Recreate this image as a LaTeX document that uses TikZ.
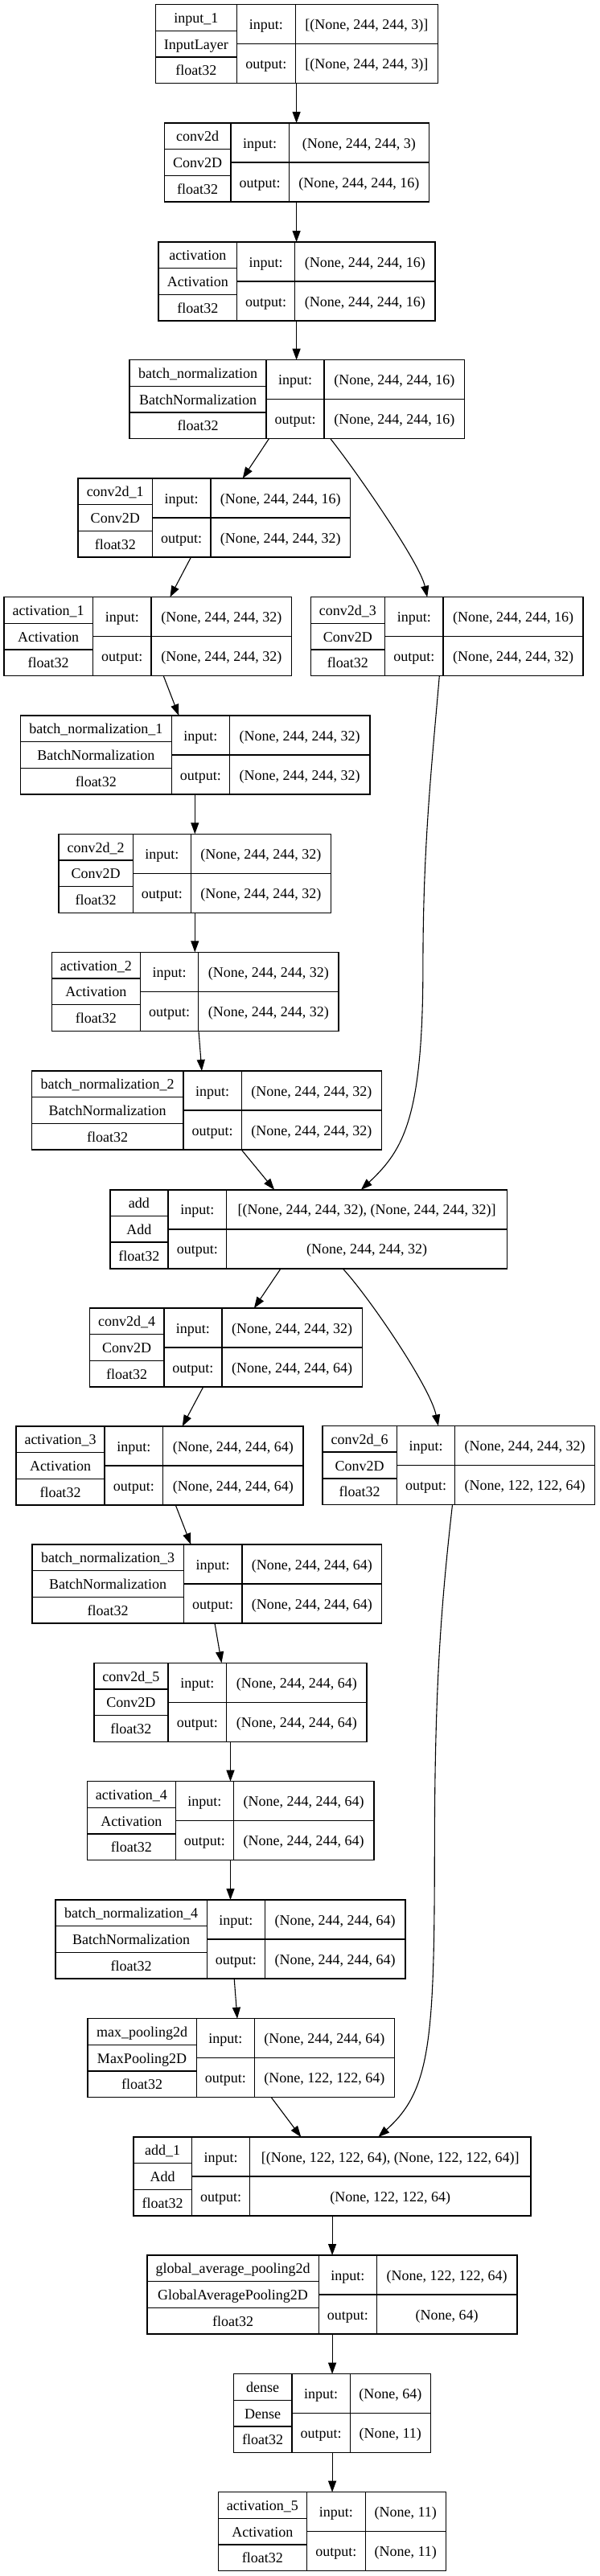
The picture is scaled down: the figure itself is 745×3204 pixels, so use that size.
\documentclass[tikz,border=0pt]{standalone}
\usepackage{fontspec}
\setmainfont{Liberation Serif}
\usetikzlibrary{arrows.meta}
\tikzset{
  frame/.style={draw=black, line width=1.4pt, inner sep=0pt, outer sep=0pt, minimum height=98pt, rectangle},
  cellline/.style={draw=black, line width=1.4pt},
  lbl/.style={anchor=base, inner sep=0pt, font=\fontsize{18}{20}\selectfont},
  arr/.style={draw=black, line width=1.1pt, -{Triangle[length=14pt,width=10pt]}},
}
\newcommand\lay[9]{\def\Lid{#1}\def\Lx{#2}\def\Ly{#3}\def\La{#4}\def\Lb{#5}\def\Lc{#6}\def\Ln{#7}\def\Lk{#8}\def\Li{#9}\layfin}
\newcommand\layfin[1]{%
  \node[frame, minimum width={(\Lc-\Lx)*1pt}, anchor=north west] (\Lid) at ({\Lx},{\Ly}) {};
  \draw[cellline] ({\La},{\Ly}) -- ({\La},{\Ly+98});
  \draw[cellline] ({\Lb},{\Ly}) -- ({\Lb},{\Ly+98});
  \draw[cellline] ({\Lx},{\Ly+32.67}) -- ({\La},{\Ly+32.67});
  \draw[cellline] ({\Lx},{\Ly+65.33}) -- ({\La},{\Ly+65.33});
  \draw[cellline] ({\La},{\Ly+49}) -- ({\Lc},{\Ly+49});
  \node[lbl] (\Lid-n) at ({(\Lx+\La)/2},{\Ly+22.8}) {\Ln};
  \node[lbl] (\Lid-k) at ({(\Lx+\La)/2},{\Ly+55.5}) {\Lk};
  \node[lbl] (\Lid-t) at ({(\Lx+\La)/2},{\Ly+88.2}) {float32};
  \node[lbl] (\Lid-il) at ({(\La+\Lb)/2},{\Ly+31}) {input:};
  \node[lbl] (\Lid-ol) at ({(\La+\Lb)/2},{\Ly+80}) {output:};
  \node[lbl] (\Lid-iv) at ({(\Lb+\Lc)/2},{\Ly+31}) {\Li};
  \node[lbl] (\Lid-ov) at ({(\Lb+\Lc)/2},{\Ly+80}) {#1};
}
\begin{document}
\begin{tikzpicture}[x=1pt,y=-1pt]
\fill[white] (0,0) rectangle (745,3204);
\useasboundingbox (0,0) rectangle (745,3204);

\lay{input1}{193.4}{5.7}{294.5}{367.2}{544.4}{input\_1}{InputLayer}{[(None, 244, 244, 3)]}{[(None, 244, 244, 3)]}
\lay{conv2d}{204.3}{153}{287.0}{359.2}{533.5}{conv2d}{Conv2D}{(None, 244, 244, 3)}{(None, 244, 244, 16)}
\lay{act}{197.1}{301}{294.5}{366.7}{541.1}{activation}{Activation}{(None, 244, 244, 16)}{(None, 244, 244, 16)}
\lay{bn}{161.0}{447.7}{331.1}{402.9}{577.7}{batch\_normalization}{BatchNormalization}{(None, 244, 244, 16)}{(None, 244, 244, 16)}
\lay{conv2d1}{96.9}{595}{189.6}{261.8}{435.7}{conv2d\_1}{Conv2D}{(None, 244, 244, 16)}{(None, 244, 244, 32)}
\lay{act1}{4.8}{742.7}{115.4}{188.1}{362.5}{activation\_1}{Activation}{(None, 244, 244, 32)}{(None, 244, 244, 32)}
\lay{conv2d3}{386.2}{742.7}{478.5}{551.1}{724.9}{conv2d\_3}{Conv2D}{(None, 244, 244, 16)}{(None, 244, 244, 32)}
\lay{bn1}{25.2}{890}{213.3}{285.5}{459.9}{batch\_normalization\_1}{BatchNormalization}{(None, 244, 244, 32)}{(None, 244, 244, 32)}
\lay{conv2d2}{73.1}{1037.3}{165.3}{237.5}{411.4}{conv2d\_2}{Conv2D}{(None, 244, 244, 32)}{(None, 244, 244, 32)}
\lay{act2}{64.2}{1184.3}{174.4}{246.6}{421.0}{activation\_2}{Activation}{(None, 244, 244, 32)}{(None, 244, 244, 32)}
\lay{bn2}{39.4}{1332}{228.0}{300.2}{474.6}{batch\_normalization\_2}{BatchNormalization}{(None, 244, 244, 32)}{(None, 244, 244, 32)}
\lay{add}{136.8}{1479.8}{209.0}{281.7}{630.4}{add}{Add}{[(None, 244, 244, 32), (None, 244, 244, 32)]}{(None, 244, 244, 32)}
\lay{conv2d4}{111.6}{1627.1}{203.8}{276.0}{450.4}{conv2d\_4}{Conv2D}{(None, 244, 244, 32)}{(None, 244, 244, 64)}
\lay{act3}{20}{1774}{130}{202.7}{377}{activation\_3}{Activation}{(None, 244, 244, 64)}{(None, 244, 244, 64)}
\lay{conv2d6}{401}{1773.5}{493.3}{565.7}{739.7}{conv2d\_6}{Conv2D}{(None, 244, 244, 32)}{(None, 122, 122, 64)}
\lay{bn3}{40}{1921}{228.3}{301}{474.6}{batch\_normalization\_3}{BatchNormalization}{(None, 244, 244, 64)}{(None, 244, 244, 64)}
\lay{conv2d5}{116.9}{2068.3}{209}{281.7}{456.1}{conv2d\_5}{Conv2D}{(None, 244, 244, 64)}{(None, 244, 244, 64)}
\lay{act4}{108.3}{2215.7}{218.5}{290.3}{465.1}{activation\_4}{Activation}{(None, 244, 244, 64)}{(None, 244, 244, 64)}
\lay{bn4}{68.8}{2363}{257.5}{329.3}{504.0}{batch\_normalization\_4}{BatchNormalization}{(None, 244, 244, 64)}{(None, 244, 244, 64)}
\lay{mp}{108.8}{2510.7}{244.2}{316.4}{490.3}{max\_pooling2d}{MaxPooling2D}{(None, 244, 244, 64)}{(None, 122, 122, 64)}
\lay{add1}{165.8}{2658}{238.5}{310.6}{659.9}{add\_1}{Add}{[(None, 122, 122, 64), (None, 122, 122, 64)]}{(None, 122, 122, 64)}
\lay{gap}{182.9}{2805}{396.2}{468.4}{642.8}{global\_average\_pooling2d}{GlobalAveragePooling2D}{(None, 122, 122, 64)}{(None, 64)}
\lay{dense}{290.3}{2952.7}{363.0}{435.2}{535.4}{dense}{Dense}{(None, 64)}{(None, 11)}
\lay{act5}{271.3}{3099.7}{381.5}{454.2}{554.4}{activation\_5}{Activation}{(None, 11)}{(None, 11)}

% straight connectors
\draw[arr] (input1.south -| 368.6,0) -- (conv2d.north -| 368.6,0);
\draw[arr] (conv2d.south -| 368.6,0) -- (act.north -| 368.6,0);
\draw[arr] (act.south -| 368.6,0) -- (bn.north -| 368.6,0);
\draw[arr] (bn.south -| 334.4,0) -- (conv2d1.north -| 301.7,0);
\draw[arr] (conv2d1.south -| 237.5,0) -- (act1.north -| 211.4,0);
\draw[arr] (act1.south -| 203.3,0) -- (bn1.north -| 222.3,0);
\draw[arr] (bn1.south -| 242.3,0) -- (conv2d2.north -| 242.3,0);
\draw[arr] (conv2d2.south -| 242.3,0) -- (act2.north -| 242.3,0);
\draw[arr] (act2.south -| 247.0,0) -- (bn2.north -| 250.9,0);
\draw[arr] (bn2.south -| 300.2,0) -- (add.north -| 341.1,0);
\draw[arr] (add.south -| 349.1,0) -- (conv2d4.north -| 315.9,0);
\draw[arr] (conv2d4.south -| 252.7,0) -- (act3.north -| 226.7,0);
\draw[arr] (act3.south -| 218.3,0) -- (bn3.north -| 237.3,0);
\draw[arr] (bn3.south -| 267.0,0) -- (conv2d5.north -| 275.5,0);
\draw[arr] (conv2d5.south -| 286.5,0) -- (act4.north -| 286.5,0);
\draw[arr] (act4.south -| 286.5,0) -- (bn4.north -| 286.5,0);
\draw[arr] (bn4.south -| 291.2,0) -- (mp.north -| 295.0,0);
\draw[arr] (mp.south -| 337.3,0) -- (add1.north -| 374.3,0);
\draw[arr] (add1.south -| 413.1,0) -- (gap.north -| 413.1,0);
\draw[arr] (gap.south -| 413.1,0) -- (dense.north -| 413.1,0);
\draw[arr] (dense.south -| 413.1,0) -- (act5.north -| 413.1,0);

% curved skip connectors
\draw[arr] (bn.south -| 410.9,0) .. controls (442,585) and (522,700) .. (conv2d3.north -| 531.2,0);
\draw[arr] (conv2d3.south -| 546.3,0) .. controls (537,950) and (526,1050) .. (525.9,1200)
  .. controls (525.9,1390) and (502,1430) .. (add.north -| 448.9,0);
\draw[arr] (add.south -| 426.1,0) .. controls (458,1612) and (535,1725) .. (conv2d6.north -| 544.9,0);
\draw[arr] (conv2d6.south -| 562.5,0) .. controls (548,2000) and (540.5,2100) .. (540.3,2300)
  .. controls (540.2,2540) and (535,2600) .. (add1.north -| 470.3,0);
\end{tikzpicture}
\end{document}
